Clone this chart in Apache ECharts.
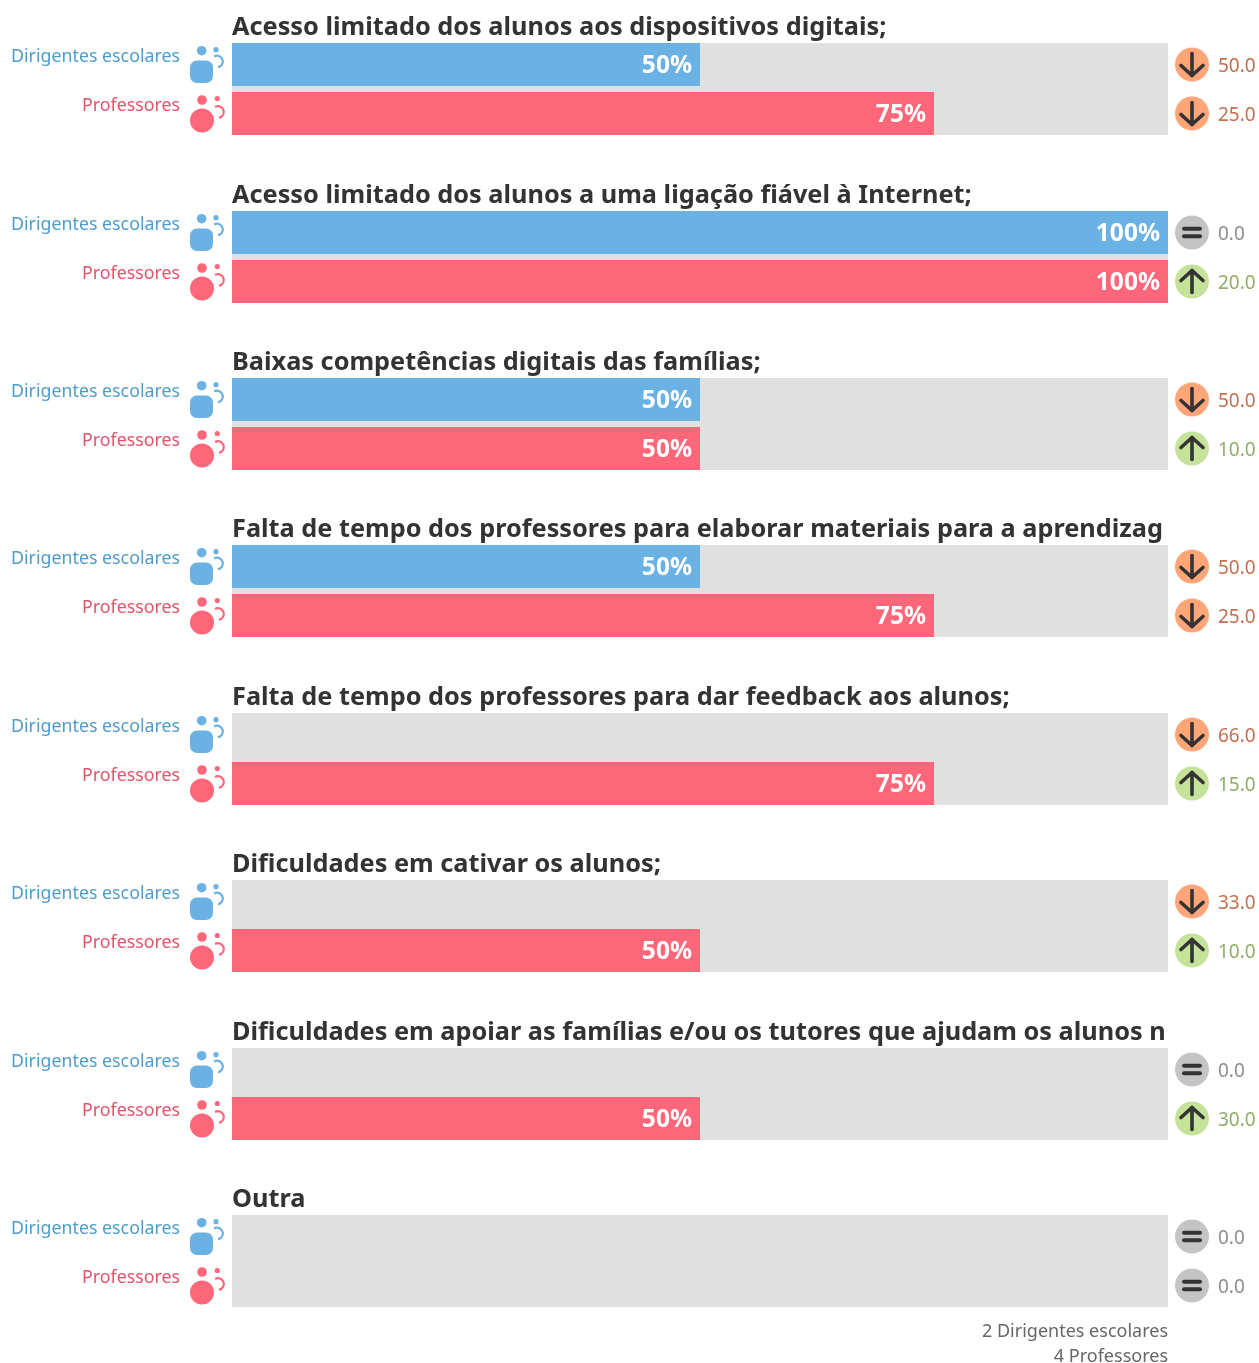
<!DOCTYPE html>
<html><head><meta charset="utf-8">
<style>html,body{margin:0;padding:0;background:#fff}#c{width:1259px;height:1363px}</style>
<script src="https://cdn.jsdelivr.net/npm/echarts@6/dist/echarts.min.js"></script>
</head><body><div id="c"></div>
<script>
const titles = [
  'Acesso limitado dos alunos aos dispositivos digitais;',
  'Acesso limitado dos alunos a uma ligação fiável à Internet;',
  'Baixas competências digitais das famílias;',
  'Falta de tempo dos professores para elaborar materiais para a aprendizagem à distância;',
  'Falta de tempo dos professores para dar feedback aos alunos;',
  'Dificuldades em cativar os alunos;',
  'Dificuldades em apoiar as famílias e/ou os tutores que ajudam os alunos nas tarefas;',
  'Outra'
];
const rowNames = ['Dirigentes escolares', 'Professores'];
const leaders  = [50, 100, 50, 50, 0, 0, 0, 0];
const teachers = [75, 100, 50, 75, 75, 50, 50, 0];
const leadersDelta  = [-50, 0, -50, -50, -66, -33, 0, 0];
const teachersDelta = [-25, 20, 10, -25, 15, 10, 30, 0];
const footer = ['2 Dirigentes escolares', '4 Professores'];

const FONT = '"Noto Sans"';
const C = {blue:'#6bb2e4', pink:'#fd6779', blueT:'#4f9ccb', pinkT:'#e2526a', track:'#e0e0e0', dark:'#333333',
  down:'#ffa578', up:'#c5e29a', same:'#c4c4c4', downT:'#c46f4f', upT:'#8fae68', sameT:'#8e8e8e'};
const top0 = 43.2, step = 167.4, rowStep = 49;

function decor(row) {
  return function (params, api) {
    const cs = params.coordSys, d = api.value(0);
    const t = cs.y + row * rowStep;
    const col = row ? C.pink : C.blue;
    const kids = [];
    kids.push({type:'text', style:{text:rowNames[row], x:180, y:t + 13.5, fill:row ? C.pinkT : C.blueT, font:'17.8px ' + FONT, align:'right', verticalAlign:'middle'}});
    if (row === 0) {
      kids.push({type:'circle', shape:{cx:201.7, cy:t + 7.7, r:4.8}, style:{fill:col}});
      kids.push({type:'rect', shape:{x:190, y:t + 17.5, width:23, height:22.5, r:7}, style:{fill:col}});
      kids.push({type:'circle', shape:{cx:216, cy:t + 6.7, r:2.6}, style:{fill:col}});
      kids.push({type:'arc', shape:{cx:217, cy:t + 18.5, r:5.8, startAngle:-2.1, endAngle:1.4, clockwise:true}, style:{stroke:col, fill:null, lineWidth:2.2}});
    } else {
      kids.push({type:'circle', shape:{cx:202, cy:t + 8, r:4.8}, style:{fill:col}});
      kids.push({type:'circle', shape:{cx:202, cy:t + 28.5, r:12}, style:{fill:col}});
      kids.push({type:'circle', shape:{cx:217.3, cy:t + 6.5, r:2.6}, style:{fill:col}});
      kids.push({type:'arc', shape:{cx:218, cy:t + 20, r:5.8, startAngle:-2.1, endAngle:1.4, clockwise:true}, style:{stroke:col, fill:null, lineWidth:2.2}});
    }
    const cx = cs.x + cs.width + 24, cy = t + 21.5;
    const tone = d < 0 ? [C.down, C.downT] : d > 0 ? [C.up, C.upT] : [C.same, C.sameT];
    kids.push({type:'circle', shape:{cx:cx, cy:cy, r:17}, style:{fill:tone[0]}});
    const line = {stroke:C.dark, lineWidth:3.6, lineCap:'round', lineJoin:'round', fill:null};
    if (d === 0) {
      kids.push({type:'line', shape:{x1:cx - 8, y1:cy - 3.8, x2:cx + 8, y2:cy - 3.8}, style:{...line, lineWidth:4}});
      kids.push({type:'line', shape:{x1:cx - 8, y1:cy + 3.8, x2:cx + 8, y2:cy + 3.8}, style:{...line, lineWidth:4}});
    } else {
      const s = d < 0 ? 1 : -1;
      kids.push({type:'line', shape:{x1:cx, y1:cy - s * 11, x2:cx, y2:cy + s * 11}, style:line});
      kids.push({type:'polyline', shape:{points:[[cx - 11, cy + s * 1], [cx, cy + s * 11], [cx + 11, cy + s * 1]]}, style:line});
    }
    kids.push({type:'text', style:{text:Math.abs(d).toFixed(1), x:cx + 26, y:cy + 2.3, fill:tone[1], font:'19px ' + FONT, align:'left', verticalAlign:'middle'}});
    return {type:'group', children:kids};
  };
}

const grid = [], xAxis = [], yAxis = [], series = [], title = [];
titles.forEach((name, i) => {
  const y = Math.round(top0 + step * i);
  grid.push({left:232, width:936, top:y, height:92, show:true, backgroundColor:C.track, borderWidth:0});
  xAxis.push({gridIndex:i, type:'value', min:0, max:100, show:false});
  yAxis.push({gridIndex:i, type:'category', data:[name], show:false});
  title.push({text:name, left:232, top:y - 30, padding:0, textStyle:{fontFamily:FONT, fontWeight:'bold', fontSize:25.3, lineHeight:30, color:C.dark, width:941, overflow:'truncate', ellipsis:''}});
  [[leaders, C.blue, rowNames[0]], [teachers, C.pink, rowNames[1]]].forEach(([arr, color, nm]) => {
    series.push({type:'bar', name:nm, xAxisIndex:i, yAxisIndex:i, data:[arr[i]], barWidth:43, barGap:(6 / 43 * 100) + '%', itemStyle:{color},
      silent:true, label:{show:true, position:'insideRight', distance:8, offset:[0, 2], color:'#fff', fontFamily:FONT, fontWeight:'bold', fontSize:24.5,
        formatter:p => p.value > 0 ? p.value + '%' : ''}});
  });
  [leadersDelta, teachersDelta].forEach((arr, row) => {
    series.push({type:'custom', xAxisIndex:i, yAxisIndex:i, silent:true, clip:false, data:[[arr[i], 0]], renderItem:decor(row), z:5});
  });
});
footer.forEach((f, k) => {
  title.push({text:f, right:91, top:1332 + k * 25 - 12, padding:0, textStyle:{fontFamily:FONT, fontWeight:'normal', fontSize:18, lineHeight:24, color:'#666666'}});
});

const chart = echarts.init(document.getElementById('c'), null, {renderer:'canvas', width:1259, height:1363});
chart.setOption({animation:false, backgroundColor:'#fff', tooltip:{show:false}, legend:{show:false}, title, grid, xAxis, yAxis, series});
</script></body></html>
